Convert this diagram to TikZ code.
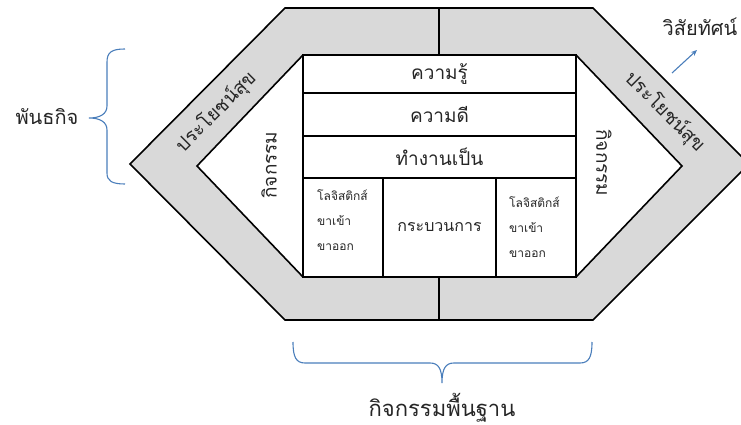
\documentclass[tikz,border=0pt]{standalone}
\usepackage{fontspec}
\newfontfamily\thai[Script=Thai]{Loma}
\usetikzlibrary{arrows.meta}
\definecolor{band}{HTML}{D9D9D9}
\definecolor{txt}{HTML}{262626}
\definecolor{brc}{HTML}{4A7EBB}
\tikzset{
  lbl/.style={font=\thai, text=txt, inner sep=0pt},
  cell/.style={draw=black, line width=1.6pt, fill=white, inner sep=0pt},
  edge/.style={draw=black, line width=1.6pt, line join=miter},
  bracel/.style={draw=brc, line width=1.1pt},
}
\begin{document}
\begin{tikzpicture}[x=1pt,y=-1pt]
\useasboundingbox (0,0) rectangle (741,425);
% hexagon vertices
\coordinate (o1) at (130,164);
\coordinate (o2) at (285,8);
\coordinate (o3) at (593,8);
\coordinate (o4) at (749,164);
\coordinate (o5) at (593,320);
\coordinate (o6) at (285,320);
\coordinate (i1) at (197,166);
\coordinate (i2) at (303,55);
\coordinate (i3) at (576,55);
\coordinate (i4) at (682,166);
\coordinate (i5) at (576,277);
\coordinate (i6) at (303,277);
\begin{scope}
\clip (0,0) rectangle (741,425);
\fill[band, even odd rule] (o1)--(o2)--(o3)--(o4)--(o5)--(o6)--cycle (i1)--(i2)--(i3)--(i4)--(i5)--(i6)--cycle;
\draw[edge] (o1)--(o2)--(o3)--(o4)--(o5)--(o6)--cycle;
\draw[edge] (i1)--(i2)--(i3)--(i4)--(i5)--(i6)--cycle;
\end{scope}
\coordinate (dt1) at (439,8);
\coordinate (dt2) at (439,55);
\coordinate (db1) at (439,277);
\coordinate (db2) at (439,320);
\draw[edge] (dt1)--(dt2);
\draw[edge] (db1)--(db2);
% cells
\node[cell, minimum width=273pt, minimum height=38pt] (r1) at (439.5,74) {};
\node[cell, minimum width=273pt, minimum height=43pt] (r2) at (439.5,114.5) {};
\node[cell, minimum width=273pt, minimum height=42pt] (r3) at (439.5,157) {};
\node[cell, minimum width=80pt, minimum height=99pt] (c1) at (343,227.5) {};
\node[cell, minimum width=113pt, minimum height=99pt] (c2) at (439.5,227.5) {};
\node[cell, minimum width=80pt, minimum height=99pt] (c3) at (536,227.5) {};
\node[lbl, font=\thai\fontsize{19}{22}\selectfont] (t1) at (r1) {ความรู้};
\node[lbl, font=\thai\fontsize{19}{22}\selectfont] (t2) at (r2) {ความดี};
\node[lbl, font=\thai\fontsize{19}{22}\selectfont] (t3) at (r3) {ทำงานเป็น};
\node[lbl, font=\thai\fontsize{16}{20}\selectfont] (t4) at (c2) {กระบวนการ};
\node[lbl, font=\thai\fontsize{12}{25}\selectfont, align=left, anchor=west] (t5) at (317,220) {โลจิสติกส์\\ขาเข้า\\ขาออก};
\node[lbl, font=\thai\fontsize{12}{25}\selectfont, align=left, anchor=west] (t6) at (509,227) {โลจิสติกส์\\ขาเข้า\\ขาออก};
% band labels
\node[lbl, font=\thai\fontsize{19}{22}\selectfont, rotate=45] (b1) at (216,112) {ประโยชน์สุข};
\node[lbl, font=\thai\fontsize{19}{22}\selectfont, rotate=-45] (b2) at (665,112) {ประโยชน์สุข};
\node[lbl, font=\thai\fontsize{19}{22}\selectfont, rotate=90] (g1) at (269,165) {กิจกรรม};
\node[lbl, font=\thai\fontsize{19}{22}\selectfont, rotate=-90] (g2) at (604,163) {กิจกรรม};
% outer labels
\node[lbl, font=\thai\fontsize{20}{24}\selectfont] (vis) at (700,27) {วิสัยทัศน์};
\coordinate (a1) at (672,73);
\coordinate (a2) at (697,50);
\draw[bracel, -{Stealth[length=6pt,width=5pt]}] (a1)--(a2);
\node[lbl, font=\thai\fontsize{20}{24}\selectfont] (mis) at (47,117) {พันธกิจ};
\draw[bracel] (125,49) .. controls (112,49) and (107,52) .. (107,62) -- (107,106)
  .. controls (107,114) and (100,118) .. (89,118)
  .. controls (100,118) and (107,122) .. (107,130) -- (107,173)
  .. controls (107,181) and (112,184) .. (125,184);
\draw[bracel] (293,342) .. controls (293,357) and (296,363) .. (305,363) -- (430,363)
  .. controls (438,363) and (442,368) .. (442,383)
  .. controls (442,368) and (446,363) .. (454,363) -- (580,363)
  .. controls (589,363) and (592,357) .. (592,342);
\node[lbl, font=\thai\fontsize{22}{26}\selectfont] (base) at (442,408) {กิจกรรมพื้นฐาน};
\end{tikzpicture}
\end{document}
